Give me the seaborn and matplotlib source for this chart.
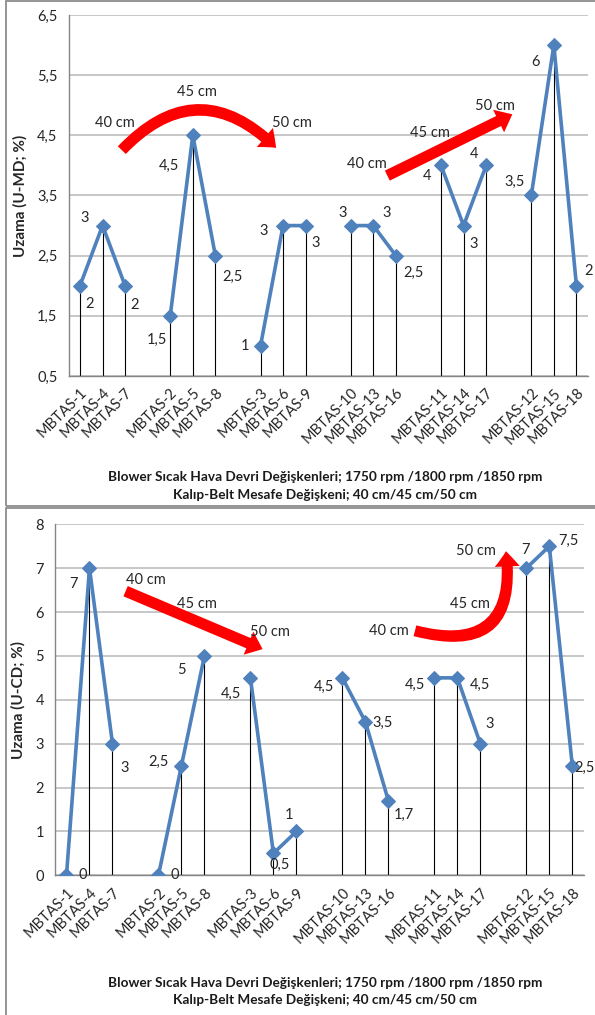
import numpy as np
import pandas as pd
import seaborn as sns
import matplotlib
matplotlib.use('Agg')
import matplotlib.pyplot as plt
from matplotlib.patches import FancyArrowPatch, Rectangle
from matplotlib.ticker import FuncFormatter

# sample groups (blank category between groups)
groups = [['MBTAS-1', 'MBTAS-4', 'MBTAS-7'],
          ['MBTAS-2', 'MBTAS-5', 'MBTAS-8'],
          ['MBTAS-3', 'MBTAS-6', 'MBTAS-9'],
          ['MBTAS-10', 'MBTAS-13', 'MBTAS-16'],
          ['MBTAS-11', 'MBTAS-14', 'MBTAS-17'],
          ['MBTAS-12', 'MBTAS-15', 'MBTAS-18']]
md_values = [2, 3, 2, 1.5, 4.5, 2.5, 1, 3, 3, 3, 3, 2.5, 4, 3, 4, 3.5, 6, 2]
cd_values = [0, 7, 3, 0, 2.5, 5, 4.5, 0.5, 1, 4.5, 3.5, 1.7, 4.5, 4.5, 3, 7, 7.5, 2.5]

xlabel_1 = 'Blower Sıcak Hava Devri Değişkenleri; 1750 rpm /1800 rpm /1850 rpm'
xlabel_2 = 'Kalıp-Belt Mesafe Değişkeni; 40 cm/45 cm/50 cm'

# label offsets in pixels (dx, dy up)
md_offsets = [(10, -18), (-18, 8), (9, -19), (-13, -24), (-24, -31), (17, -21),
              (-16, 0), (-19, -5), (10, -17), (-8, 13), (13, 13), (18, -17),
              (-14, -11), (10, -18), (-12, 11), (-17, 14), (-18, -17), (12, 15)]
cd_offsets = [(16, 0), (-16, -16), (12, -24), (16, 0), (-23, 4), (-23, -14),
              (-19, -16), (6, -12), (-7, 16), (-18, -9), (17, -1), (16, -14),
              (-19, -7), (23, -7), (9, 20), (-1, 18), (19, 5), (12, -2)]

BLUE = '#4F81BD'
GRID = '#BEBEBE'


def comma(v):
    return ('%g' % v).replace('.', ',')


def make_frame(values):
    rows = []
    for g, names in enumerate(groups):
        for i, name in enumerate(names):
            rows.append({'pos': g * 4 + i, 'sample': name, 'group': g,
                         'value': values[g * 3 + i]})
    return pd.DataFrame(rows)


def draw_panel(ax, df, ymin, ymax, ystep, offsets, ylabel):
    for p, v in zip(df['pos'], df['value']):
        ax.plot([p, p], [ymin, v], color='black', lw=0.8, zorder=2)
    sns.lineplot(data=df, x='pos', y='value', units='group', estimator=None,
                 color=BLUE, lw=2.6, marker='D', markersize=7,
                 markeredgecolor=BLUE, ax=ax, zorder=3, legend=False)
    for (p, v), (dx, dy) in zip(zip(df['pos'], df['value']), offsets):
        ax.annotate(comma(v), (p, v), xytext=(dx, dy), textcoords='offset pixels',
                    ha='center', va='center', fontsize=10.5, color='#262626')
    cats = []
    for g, names in enumerate(groups):
        cats += names
        if g < len(groups) - 1:
            cats.append('')
    ax.set_xlim(-0.5, len(cats) - 0.5)
    ax.set_xticks(range(len(cats)))
    ax.set_xticklabels(cats, rotation=45, ha='right', rotation_mode='anchor',
                       fontsize=10.5, color='#262626')
    ax.tick_params(axis='x', length=0, pad=7)
    ax.tick_params(axis='y', length=4, color='#868686', labelsize=10.5, pad=4,
                   labelcolor='#262626')
    ax.set_ylim(ymin, ymax)
    ax.set_yticks(np.arange(ymin, ymax + 0.01, ystep))
    ax.yaxis.set_major_formatter(FuncFormatter(lambda v, _: comma(round(v, 1))))
    ax.yaxis.grid(True, color=GRID, lw=1.2)
    ax.xaxis.grid(False)
    ax.set_axisbelow(True)
    for s in ['top', 'right']:
        ax.spines[s].set_visible(False)
    for s in ['left', 'bottom']:
        ax.spines[s].set_color('#868686')
        ax.spines[s].set_linewidth(1.0)
    ax.set_xlabel('')
    ax.set_ylabel(ylabel, fontsize=11, fontweight='bold', labelpad=7)


def red_arrow(ax, start, end, rad):
    arr = FancyArrowPatch(start, end, connectionstyle='arc3,rad=%s' % rad,
                          arrowstyle='simple,head_length=1.1,head_width=1.8,tail_width=0.8',
                          mutation_scale=10, color='#FF0000', lw=0, zorder=4)
    ax.add_patch(arr)


sns.set_theme(style='white')
plt.rcParams['font.family'] = ['Lato', 'DejaVu Sans']

fig = plt.figure(figsize=(5.95, 10.15), dpi=100)
H = 1015.0

# panel frames
fig.patches.append(Rectangle((6 / 595, 1 - 506 / H), 600 / 595, 505 / H,
                             transform=fig.transFigure, fill=False,
                             edgecolor='#8C8C8C', lw=1.3))
fig.patches.append(Rectangle((6 / 595, -0.01), 600 / 595, (H - 508) / H + 0.01,
                             transform=fig.transFigure, fill=False,
                             edgecolor='#8C8C8C', lw=1.3))

ax1 = fig.add_axes([68.7 / 595, 1 - 376 / H, 519 / 595, 361 / H])
ax2 = fig.add_axes([55 / 595, 1 - 875.3 / H, 528.8 / 595, 351 / H])

draw_panel(ax1, make_frame(md_values), 0.5, 6.5, 1.0, md_offsets, 'Uzama (U-MD; %)')
draw_panel(ax2, make_frame(cd_values), 0, 8, 1, cd_offsets, 'Uzama (U-CD; %)')

# arrows
red_arrow(ax1, (1.77, 4.22), (8.78, 4.26), -0.52)
red_arrow(ax1, (13.51, 3.81), (19.27, 4.87), 0)
red_arrow(ax2, (2.46, 6.50), (8.64, 5.13), 0)
red_arrow(ax2, (15.04, 5.59), (19.1, 7.45), 0.75)

# distance labels (pixel positions on figure, y from top)
for (x, y, t) in [(115, 123, '40 cm'), (197, 92, '45 cm'), (292, 123, '50 cm'),
                  (367, 164, '40 cm'), (430, 133, '45 cm'), (495, 106, '50 cm'),
                  (146, 580, '40 cm'), (197, 604, '45 cm'), (270, 632, '50 cm'),
                  (389, 631, '40 cm'), (470, 604, '45 cm'), (476, 551, '50 cm')]:
    fig.text(x / 595, 1 - y / H, t, ha='center', va='center', fontsize=10.5,
             color='#262626')

for y1, y2 in [(477, 495), (983, 1000)]:
    fig.text(325 / 595, 1 - y1 / H, xlabel_1, ha='center', va='center',
             fontsize=9.8, fontweight='bold', color='#1a1a1a')
    fig.text(325 / 595, 1 - y2 / H, xlabel_2, ha='center', va='center',
             fontsize=9.8, fontweight='bold', color='#1a1a1a')

fig.savefig('out.png', dpi=100)
